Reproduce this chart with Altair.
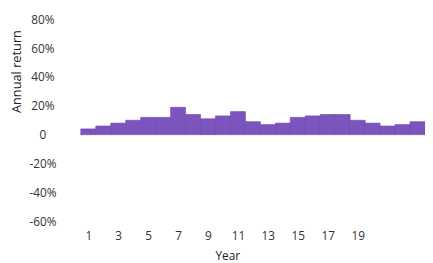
import altair as alt
import pandas as pd

years = list(range(1, 24))
returns = [4, 6, 8, 10, 12, 12, 19, 14, 11, 13, 16, 9, 7, 8, 12, 13, 14, 14, 10, 8, 6, 7, 9]
x_ticks = [1, 3, 5, 7, 9, 11, 13, 15, 17, 19]
y_ticks = [-60, -40, -20, 0, 20, 40, 60, 80]

df = pd.DataFrame({"year": years, "ret": returns})

chart = alt.Chart(df).transform_calculate(
    x0="datum.year - 0.5", x1="datum.year + 0.5"
).mark_rect(color="#7b55bd", stroke="#6a47ab", strokeWidth=0.6).encode(
    x=alt.X("x0:Q", scale=alt.Scale(domain=[0.5, 23.5], nice=False, zero=False),
            axis=alt.Axis(title="Year", values=x_ticks, grid=False, domain=False, ticks=False,
                          tickSize=0, labelPadding=2, labelFontSize=12, labelColor="#333",
                          labelFont="Open Sans", titleFont="Open Sans", titleFontSize=12,
                          titleFontWeight="normal", titleColor="#222", titlePadding=10,
                          titleX=149, labelFlush=False)),
    x2="x1:Q",
    y=alt.Y("ret:Q", scale=alt.Scale(domain=[-65, 85], nice=False),
            axis=alt.Axis(title="Annual return", values=y_ticks, grid=False, domain=False,
                          ticks=False, tickSize=0, labelAlign="center", labelPadding=39,
                          labelFontSize=12, labelColor="#333", labelFont="Open Sans",
                          labelExpr="datum.value == 0 ? '0' : datum.value + '%'",
                          titleFont="Open Sans", titleFontSize=13, titleFontWeight="normal",
                          titleColor="#222", titleX=-65, titleY=60, titleBaseline="middle",
                          titleAngle=-90)),
    y2=alt.datum(0),
).properties(
    width=350, height=220,
    autosize=alt.AutoSizeParams(type="none"),
    padding={"left": 74, "top": 2, "right": 0, "bottom": 32},
).configure_view(stroke=None)

chart.save("out.html", embed_options={"renderer": "svg", "actions": False})
